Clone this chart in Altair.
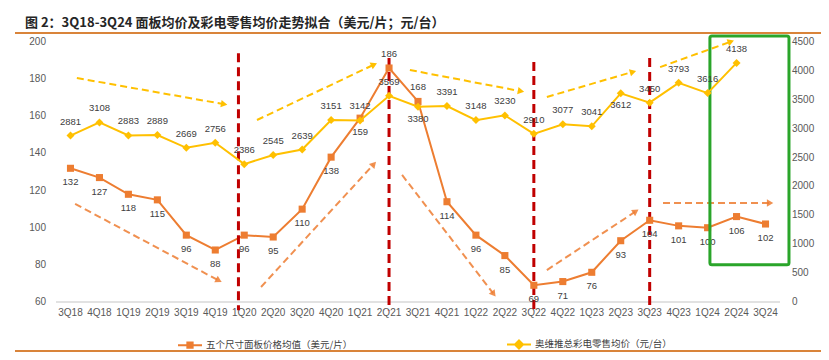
import math
import altair as alt
import pandas as pd

# ---------------- data ----------------
quarters = ["3Q18", "4Q18", "1Q19", "2Q19", "3Q19", "4Q19", "1Q20", "2Q20", "3Q20", "4Q20",
            "1Q21", "2Q21", "3Q21", "4Q21", "1Q22", "2Q22", "3Q22", "4Q22", "1Q23", "2Q23",
            "3Q23", "4Q23", "1Q24", "2Q24", "3Q24"]
panel_price = [132, 127, 118, 115, 96, 88, 96, 95, 110, 138, 159, 186, 168, 114, 96, 85,
               69, 71, 76, 93, 104, 101, 100, 106, 102]
retail_price = [2881, 3108, 2883, 2889, 2669, 2756, 2386, 2545, 2639, 3151, 3142, 3569, 3380,
                3391, 3148, 3230, 2910, 3077, 3041, 3612, 3450, 3793, 3616, 4138, None]
panel_label_above = ["2Q21", "3Q21"]
retail_label_below = ["3Q21", "2Q23"]

series_names = ["五个尺寸面板价格均值（美元/片）", "奥维推总彩电零售均价（元/台）"]
title_text = "图 2：3Q18-3Q24 面板均价及彩电零售均价走势拟合（美元/片；元/台）"

left_ticks = [60, 80, 100, 120, 140, 160, 180, 200]
right_ticks = [0, 500, 1000, 1500, 2000, 2500, 3000, 3500, 4000, 4500]

# trend arrows: x in quarter index, y in left-axis units
yellow_x1 = [0.22, 6.44, 11.72, 16.45, 20.36]
yellow_y1 = [180.6, 158.0, 184.9, 170.4, 186.5]
yellow_x2 = [5.27, 10.45, 15.52, 19.39, 22.77]
yellow_y2 = [166.6, 187.6, 173.6, 183.8, 200.0]
orange_x1 = [0.16, 6.58, 11.45, 16.45, 20.46]
orange_y1 = [112.8, 68.1, 128.4, 77.2, 113.3]
orange_x2 = [5.09, 10.45, 14.59, 19.49, 24.12]
orange_y2 = [71.8, 133.8, 64.8, 108.5, 113.3]

# red dashed dividers
divider_x = [5.8, 11.0, 16.0, 20.0]
divider_top = [194.0, 191.4, 189.2, 191.4]
divider_bottom = [55.5, 55.5, 55.5, 55.5]

# green highlight box
box_x = [22.08]
box_x2 = [24.81]
box_y = [80.0]
box_y2 = [203.2]

# ---------------- style ----------------
W, H = 724, 260
ORANGE = "#ED7D31"
YELLOW = "#FFC000"
RED = "#C00000"
GREEN = "#2AA52A"
TXT = "#404040"
AXIS_TXT = "#595959"
NUM_FONT = "Liberation Sans"
CJK_FONT = "Noto Sans CJK SC"

px_x = W / 25.0
px_y = H / 140.0


def heading(x1, y1, x2, y2):
    dx = (x2 - x1) * px_x
    dy = (y2 - y1) * px_y
    return math.degrees(math.atan2(dx, dy)) % 360


df = pd.DataFrame({"i": list(range(len(quarters))), "q": quarters,
                   "panel": panel_price, "retail": retail_price})
df["panel_above"] = df["q"].isin(panel_label_above)
df["retail_below"] = df["q"].isin(retail_label_below)

ydf = pd.DataFrame({"x1": yellow_x1, "y1": yellow_y1, "x2": yellow_x2, "y2": yellow_y2})
ydf["ang"] = [heading(*r) for r in zip(yellow_x1, yellow_y1, yellow_x2, yellow_y2)]
odf = pd.DataFrame({"x1": orange_x1, "y1": orange_y1, "x2": orange_x2, "y2": orange_y2})
odf["ang"] = [heading(*r) for r in zip(orange_x1, orange_y1, orange_x2, orange_y2)]
vdf = pd.DataFrame({"x": divider_x, "y": divider_top, "y2": divider_bottom})
bdf = pd.DataFrame({"x": box_x, "x2": box_x2, "y": box_y, "y2": box_y2})
ldf = pd.DataFrame({"series": series_names})
tdf = pd.DataFrame({"t": [title_text]})
ltdf = pd.DataFrame({"v": left_ticks})
rtdf = pd.DataFrame({"v": right_ticks})

xs = alt.Scale(domain=[-0.5, len(quarters) - 0.5], nice=False, zero=False)
yl = alt.Scale(domain=[60, 200], nice=False, zero=False)
yr = alt.Scale(domain=[0, 4500], nice=False, zero=False)

# ---------------- left group ----------------
title_layer = alt.Chart(tdf).mark_text(align="left", baseline="middle", font=CJK_FONT,
                                       fontSize=13, fontWeight="bold", color="#262626").encode(
    x=alt.value(-31), y=alt.value(-19), text="t:N")
title_rule = alt.Chart(tdf).mark_rule(color="#D9843A", strokeWidth=2).encode(
    x=alt.value(-41), x2=alt.value(765), y=alt.value(-9))
bottom_rule = alt.Chart(tdf).mark_rule(color="#D9843A", strokeWidth=2).encode(
    x=alt.value(-41), x2=alt.value(765), y=alt.value(309))
x_baseline = alt.Chart(tdf).mark_rule(color="#D9D9D9", strokeWidth=1.5).encode(
    x=alt.value(0), x2=alt.value(W), y=alt.value(H))

x_tick_labels = alt.Chart(df).mark_text(baseline="top", font=NUM_FONT, fontSize=10,
                                        color=AXIS_TXT, dy=6).encode(
    x=alt.X("i:Q", scale=xs, axis=None), y=alt.value(H), text="q:N")
left_tick_labels = alt.Chart(ltdf).mark_text(align="right", baseline="middle", font=NUM_FONT,
                                             fontSize=10, color=AXIS_TXT).encode(
    x=alt.value(-10), y=alt.Y("v:Q", scale=yl, axis=None), text=alt.Text("v:Q", format="d"))

y_shaft = alt.Chart(ydf).mark_rule(color=YELLOW, strokeWidth=2, strokeDash=[7, 4]).encode(
    x=alt.X("x1:Q", scale=xs, axis=None), y=alt.Y("y1:Q", scale=yl, axis=None),
    x2="x2:Q", y2="y2:Q")
y_head = alt.Chart(ydf).mark_point(shape="triangle", filled=True, size=55, opacity=1,
                                   color=YELLOW).encode(
    x=alt.X("x2:Q", scale=xs, axis=None), y=alt.Y("y2:Q", scale=yl, axis=None),
    angle=alt.Angle("ang:Q", scale=None))
o_shaft = alt.Chart(odf).mark_rule(color=ORANGE, strokeWidth=2, strokeDash=[7, 4],
                                   opacity=0.85).encode(
    x=alt.X("x1:Q", scale=xs, axis=None), y=alt.Y("y1:Q", scale=yl, axis=None),
    x2="x2:Q", y2="y2:Q")
o_head = alt.Chart(odf).mark_point(shape="triangle", filled=True, size=55, opacity=0.85,
                                   color=ORANGE).encode(
    x=alt.X("x2:Q", scale=xs, axis=None), y=alt.Y("y2:Q", scale=yl, axis=None),
    angle=alt.Angle("ang:Q", scale=None))

dividers = alt.Chart(vdf).mark_rule(color=RED, strokeWidth=3, strokeDash=[9, 5]).encode(
    x=alt.X("x:Q", scale=xs, axis=None), y=alt.Y("y:Q", scale=yl, axis=None), y2="y2:Q")

panel_line = alt.Chart(df).mark_line(color=ORANGE, strokeWidth=2).encode(
    x=alt.X("i:Q", scale=xs, axis=None),
    y=alt.Y("panel:Q", scale=yl, axis=None))
panel_pts = alt.Chart(df).mark_point(shape="square", filled=True, size=50, opacity=1,
                                     color=ORANGE).encode(
    x=alt.X("i:Q", scale=xs, axis=None), y=alt.Y("panel:Q", scale=yl, axis=None))
panel_lab_below = alt.Chart(df).transform_filter("!datum.panel_above").mark_text(
    dy=14, font=NUM_FONT, fontSize=9.5, color=TXT).encode(
    x=alt.X("i:Q", scale=xs, axis=None), y=alt.Y("panel:Q", scale=yl, axis=None),
    text=alt.Text("panel:Q", format="d"))
panel_lab_above = alt.Chart(df).transform_filter("datum.panel_above").mark_text(
    dy=-14, font=NUM_FONT, fontSize=9.5, color=TXT).encode(
    x=alt.X("i:Q", scale=xs, axis=None), y=alt.Y("panel:Q", scale=yl, axis=None),
    text=alt.Text("panel:Q", format="d"))

box = alt.Chart(bdf).mark_rect(fillOpacity=0, stroke=GREEN, strokeWidth=3,
                               cornerRadius=2).encode(
    x=alt.X("x:Q", scale=xs, axis=None), x2="x2:Q",
    y=alt.Y("y:Q", scale=yl, axis=None), y2="y2:Q")

sq_path = "M-1,0H1M-0.22,-0.22H0.22V0.22H-0.22Z"
dia_path = "M-1,0H1M0,-0.34L0.34,0L0,0.34L-0.34,0Z"
legend_layer = alt.Chart(ldf).transform_filter("false").mark_point(
    filled=True, opacity=1, strokeWidth=2).encode(
    color=alt.Color("series:N", scale=alt.Scale(domain=series_names, range=[ORANGE, YELLOW]),
                    legend=alt.Legend(title=None)),
    stroke=alt.Stroke("series:N", scale=alt.Scale(domain=series_names, range=[ORANGE, YELLOW]),
                      legend=alt.Legend(title=None)),
    shape=alt.Shape("series:N", scale=alt.Scale(domain=series_names, range=[sq_path, dia_path]),
                    legend=alt.Legend(title=None)))

left = alt.layer(x_baseline, panel_line, x_tick_labels, left_tick_labels, title_layer,
                 title_rule, bottom_rule, y_shaft, y_head, o_shaft, o_head, dividers,
                 panel_pts, panel_lab_below, panel_lab_above, box, legend_layer)

# ---------------- right group ----------------
right_tick_labels = alt.Chart(rtdf).mark_text(align="left", baseline="middle", font=NUM_FONT,
                                              fontSize=10, color=AXIS_TXT).encode(
    x=alt.value(W + 12), y=alt.Y("v:Q", scale=yr, axis=None), text=alt.Text("v:Q", format="d"))
retail_line = alt.Chart(df).mark_line(color=YELLOW, strokeWidth=2).encode(
    x=alt.X("i:Q", scale=xs, axis=None),
    y=alt.Y("retail:Q", scale=yr, axis=None))
retail_pts = alt.Chart(df).mark_point(shape="diamond", filled=True, size=64, opacity=1,
                                      color=YELLOW).encode(
    x=alt.X("i:Q", scale=xs, axis=None), y=alt.Y("retail:Q", scale=yr, axis=None))
retail_lab_above = alt.Chart(df).transform_filter("!datum.retail_below").mark_text(
    dy=-14, font=NUM_FONT, fontSize=9.5, color=TXT).encode(
    x=alt.X("i:Q", scale=xs, axis=None), y=alt.Y("retail:Q", scale=yr, axis=None),
    text=alt.Text("retail:Q", format="d"))
retail_lab_below = alt.Chart(df).transform_filter("datum.retail_below").mark_text(
    dy=12, font=NUM_FONT, fontSize=9.5, color=TXT).encode(
    x=alt.X("i:Q", scale=xs, axis=None), y=alt.Y("retail:Q", scale=yr, axis=None),
    text=alt.Text("retail:Q", format="d"))

right = alt.layer(retail_line, right_tick_labels, retail_pts, retail_lab_above,
                  retail_lab_below)

chart = alt.layer(left, right).resolve_scale(y="independent").properties(
    width=W, height=H,
    autosize=alt.AutoSizeParams(type="none"),
    padding={"left": 48, "top": 34, "right": 41, "bottom": 50},
).configure_view(stroke=None).configure_legend(
    orient="none", legendX=121, legendY=289, direction="horizontal", columnPadding=150,
    symbolSize=576, symbolStrokeWidth=2, labelFont=CJK_FONT, labelFontSize=9.5,
    labelColor=TXT, labelOffset=3, padding=0,
)

chart.save("out.html", embed_options={"renderer": "svg", "actions": False})
